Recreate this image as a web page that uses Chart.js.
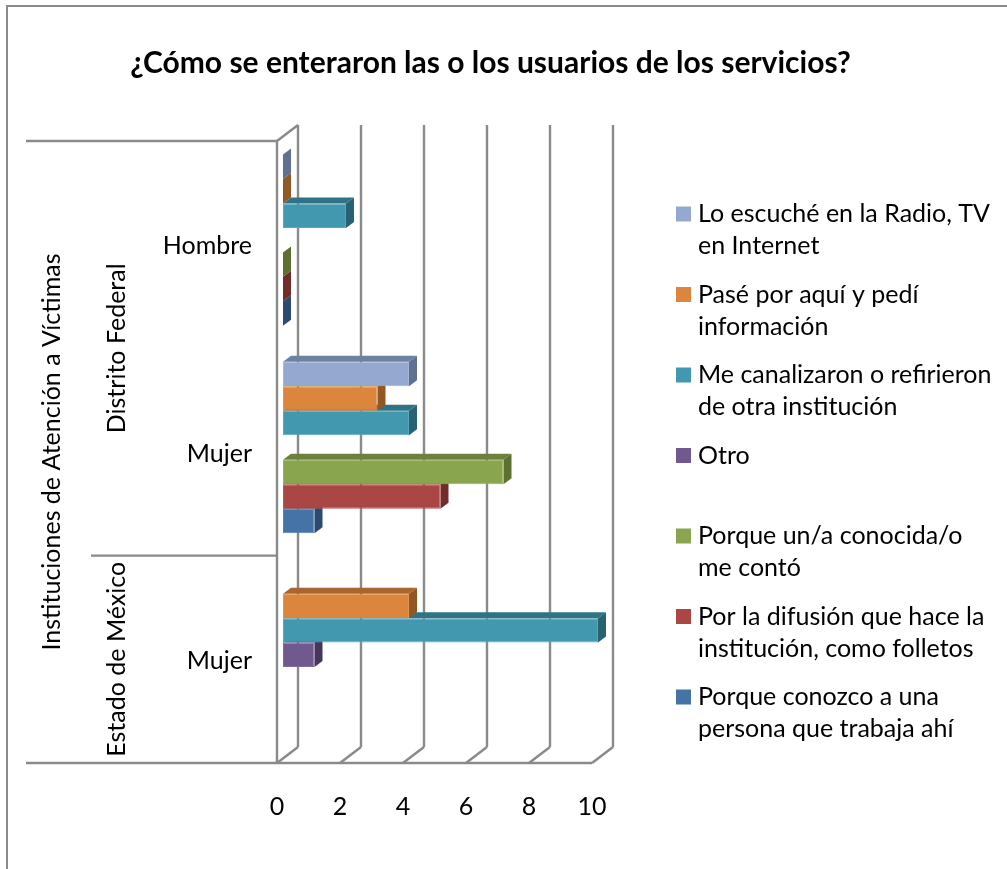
<!DOCTYPE html>
<html>
<head>
<meta charset="utf-8">
<style>
  body { margin: 0; background: #fff; }
  canvas { display: block; }
</style>
<script src="https://cdn.jsdelivr.net/npm/chart.js@4"></script>
</head>
<body>
<canvas id="myChart" width="1007" height="869"></canvas>
<script>
// data
const categories = ['Hombre', 'Mujer', 'Mujer'];
const groupNames = ['Distrito Federal', 'Estado de México'];
const groupSpans = [2, 1];
const axisName = 'Instituciones de Atención a Víctimas';
const chartTitle = '¿Cómo se enteraron las o los usuarios de los servicios?';
const xTicks = [0, 2, 4, 6, 8, 10];

const radioTv = [0, 4, null];
const pase = [0, 3, 4];
const canalizaron = [2, 4, 10];
const otro = [null, null, 1];
const conocida = [0, 7, null];
const difusion = [0, 5, null];
const conozco = [0, 1, null];

const seriesNames = [
  ['Lo escuché en la Radio, TV', 'en Internet'],
  ['Pasé por aquí y pedí', 'información'],
  ['Me canalizaron o refirieron', 'de otra institución'],
  ['Otro'],
  ['Porque un/a conocida/o', 'me contó'],
  ['Por la difusión que hace la', 'institución, como folletos'],
  ['Porque conozco a una', 'persona que trabaja ahí']
];
const seriesValues = [radioTv, pase, canalizaron, otro, conocida, difusion, conozco];

const frontColors = ['#95a9d0', '#dc853d', '#4198af', '#71588f', '#89a54e', '#aa4644', '#4572a7'];
const topColors = ['#6f81a2', '#a8652e', '#2f7385', '#574370', '#6b813d', '#853634', '#35588a'];
const sideColors = ['#5f7090', '#925824', '#286272', '#46365a', '#5d7030', '#722d2b', '#2c4a6f'];
const edgeColors = ['#a3b5d8', '#e29550', '#5aa8bd', '#8069a0', '#98b25f', '#b85856', '#5883b4'];

const FONT = 'Lato, sans-serif';
const GRID = '#8a8a8a';

// offsets of the 3D box relative to the plane the bars stand on
const front = { x: -6, y: 4.5 };
const back = { x: 15, y: -11.5 };
const barDepth = { x: 8, y: -6 };

function line(ctx, x1, y1, x2, y2) {
  ctx.beginPath();
  ctx.moveTo(x1, y1);
  ctx.lineTo(x2, y2);
  ctx.stroke();
}

const box3d = {
  id: 'box3d',
  afterLayout(chart) {
    // title is centred over plot and legend together, not over the plot only
    chart.titleBlock.left = 0;
    chart.titleBlock.right = 981;
  },
  beforeDraw(chart) {
    const ctx = chart.ctx;
    ctx.save();
    ctx.strokeStyle = GRID;
    ctx.lineWidth = 2;
    ctx.beginPath();
    ctx.moveTo(7, 869);
    ctx.lineTo(7, 6);
    ctx.lineTo(1007, 6);
    ctx.stroke();
    ctx.restore();
  },
  beforeDatasetsDraw(chart) {
    const { ctx, scales: { x, y } } = chart;
    const top = y.top, bottom = y.bottom;
    ctx.save();
    ctx.strokeStyle = GRID;
    ctx.lineWidth = 2.4;
    xTicks.forEach(v => {
      const px = x.getPixelForValue(v);
      line(ctx, px + back.x, top + back.y, px + back.x, bottom + back.y);
      line(ctx, px + front.x, bottom + front.y, px + back.x, bottom + back.y);
    });
    const x0 = x.getPixelForValue(0), x10 = x.getPixelForValue(10);
    line(ctx, x0 + front.x, top + front.y, x0 + front.x, bottom + front.y);
    line(ctx, x0 + front.x, top + front.y, x0 + back.x, top + back.y);
    line(ctx, x0 + front.x, bottom + front.y, x10 + front.x, bottom + front.y);

    // multi level axis rules
    const tierLeft = [26, 91, 26];
    const band = (bottom - top) / categories.length;
    let rows = 0;
    const rules = [top + front.y];
    groupSpans.forEach(s => { rows += s; rules.push(top + front.y + band * rows); });
    rules.forEach((ry, i) => line(ctx, tierLeft[i], ry, x0 + front.x, ry));
    ctx.restore();

    ctx.save();
    ctx.fillStyle = '#000';
    ctx.font = '25px ' + FONT;
    ctx.textAlign = 'center';
    ctx.textBaseline = 'middle';
    groupNames.forEach((name, i) => {
      ctx.save();
      ctx.translate(117, (rules[i] + rules[i + 1]) / 2);
      ctx.rotate(-Math.PI / 2);
      ctx.fillText(name, 0, 0);
      ctx.restore();
    });
    ctx.save();
    ctx.translate(52, (rules[0] + rules[rules.length - 1]) / 2);
    ctx.rotate(-Math.PI / 2);
    ctx.fillText(axisName, 0, 0);
    ctx.restore();
    ctx.restore();

    // legend, one row every 80.5px
    ctx.save();
    ctx.font = '25px ' + FONT;
    ctx.textAlign = 'left';
    ctx.textBaseline = 'middle';
    seriesNames.forEach((lines, i) => {
      const ly = 214 + i * 80.5;
      ctx.fillStyle = frontColors[i];
      ctx.fillRect(676, ly - 7.5, 15, 15);
      ctx.fillStyle = '#000';
      lines.forEach((t, j) => ctx.fillText(t, 698, ly + j * 32));
    });
    ctx.restore();
  },
  // datasets are painted last to first, so the upper bars cover the faces below them
  beforeDatasetDraw(chart, args) {
    const ctx = chart.ctx, i = args.index;
    ctx.save();
    args.meta.data.forEach((bar, k) => {
      if (seriesValues[i][k] === null) return;
      const xl = bar.base, xr = bar.x;
      const yt = bar.y - bar.height / 2, yb = bar.y + bar.height / 2;
      ctx.fillStyle = topColors[i];
      ctx.beginPath();
      ctx.moveTo(xl, yt);
      ctx.lineTo(xl + barDepth.x, yt + barDepth.y);
      ctx.lineTo(xr + barDepth.x, yt + barDepth.y);
      ctx.lineTo(xr, yt);
      ctx.closePath();
      ctx.fill();
      ctx.fillStyle = sideColors[i];
      ctx.beginPath();
      ctx.moveTo(xr, yt);
      ctx.lineTo(xr + barDepth.x, yt + barDepth.y);
      ctx.lineTo(xr + barDepth.x, yb + barDepth.y);
      ctx.lineTo(xr, yb);
      ctx.closePath();
      ctx.fill();
    });
    ctx.restore();
  }
};

new Chart(document.getElementById('myChart'), {
  type: 'bar',
  data: {
    labels: categories,
    datasets: seriesValues.map((values, i) => ({
      label: seriesNames[i].join(' '),
      data: values,
      backgroundColor: frontColors[i],
      borderColor: edgeColors[i],
      borderWidth: 1,
      borderSkipped: false,
      categoryPercentage: 0.826,
      barPercentage: 1
    }))
  },
  plugins: [box3d],
  options: {
    indexAxis: 'y',
    responsive: false,
    animation: false,
    layout: { padding: { right: 409 } },
    plugins: {
      legend: { display: false },
      tooltip: { enabled: false },
      title: {
        display: true,
        text: chartTitle,
        color: '#000',
        font: { family: FONT, size: 30, weight: 'bold' },
        padding: { top: 45, bottom: 55.5 }
      }
    },
    scales: {
      x: {
        min: 0,
        max: 10,
        grid: { display: false, drawTicks: false },
        border: { display: false },
        afterFit(scale) { scale.height = 110.5; },
        ticks: {
          stepSize: 2,
          maxRotation: 0,
          padding: 33,
          labelOffset: -6,
          color: '#000',
          font: { family: FONT, size: 25 }
        }
      },
      y: {
        grid: { display: false, drawTicks: false },
        border: { display: false },
        afterFit(scale) { scale.width = 283; },
        ticks: {
          padding: 31,
          labelOffset: 6,
          color: '#000',
          font: { family: FONT, size: 25 }
        }
      }
    }
  }
});
</script>
</body>
</html>
